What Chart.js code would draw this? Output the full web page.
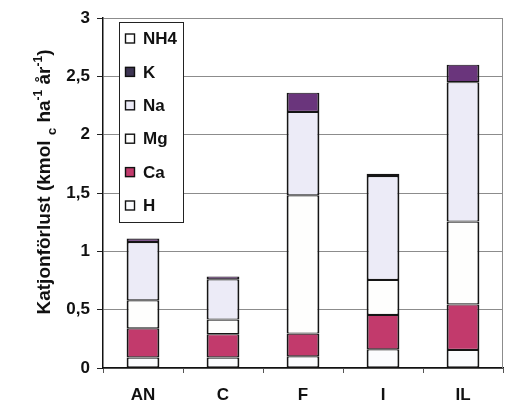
<!DOCTYPE html>
<html>
<head>
<meta charset="utf-8">
<script src="https://cdn.jsdelivr.net/npm/chart.js@4/dist/chart.umd.min.js"></script>
<style>
  html, body { margin: 0; padding: 0; background: #ffffff; }
  canvas { display: block; }
</style>
</head>
<body>
<canvas id="chart" width="510" height="403"></canvas>
<script>
// Cation losses per site, stacked by ion (kmol_c per ha and year)
const categories = ['AN', 'C', 'F', 'I', 'IL'];
const hValues   = [0.09, 0.09, 0.10, 0.16, 0.155];
const caValues  = [0.25, 0.20, 0.195, 0.295, 0.39];
const mgValues  = [0.24, 0.125, 1.185, 0.30, 0.71];
const naValues  = [0.50, 0.345, 0.715, 0.89, 1.195];
const kValues   = [0.03, 0.025, 0.165, 0.02, 0.15];
const nh4Values = [0, 0, 0, 0, 0];
const yTickValues = [0, 0.5, 1, 1.5, 2, 2.5, 3];

const FONT = '"Liberation Sans", Arial, sans-serif';

const series = [
  { label: 'H',   data: hValues,   color: '#fbfcfe' },
  { label: 'Ca',  data: caValues,  color: '#c23a6c' },
  { label: 'Mg',  data: mgValues,  color: '#fefefd' },
  { label: 'Na',  data: naValues,  color: '#ecebf7' },
  { label: 'K',   data: kValues,   color: '#6a357c' },
  { label: 'NH4', data: nh4Values, color: '#ffffff' }
];

// Legend box drawn inside the plot area, top entry = top of the stack
const boxLegend = {
  id: 'boxLegend',
  afterDraw(chart) {
    const ctx = chart.ctx;
    const left = 119, top = 22, w = 64, h = 200;
    ctx.save();
    ctx.fillStyle = '#ffffff';
    ctx.fillRect(left, top, w, h);
    ctx.strokeStyle = '#222';
    ctx.lineWidth = 1;
    ctx.strokeRect(left + 0.5, top + 0.5, w, h);
    const items = chart.data.datasets.slice().reverse();
    ctx.font = 'bold 17px ' + FONT;
    ctx.textBaseline = 'middle';
    items.forEach((ds, i) => {
      const cy = 38.5 + i * 33.4;
      ctx.fillStyle = ds.label === 'K' ? '#3d3452' : ds.backgroundColor;
      ctx.fillRect(125, cy - 5, 10, 10);
      ctx.strokeStyle = '#111';
      ctx.lineWidth = 1.4;
      ctx.strokeRect(125.5, cy - 4.5, 9, 9);
      ctx.fillStyle = '#111';
      ctx.fillText(ds.label, 143, cy + 1);
    });
    ctx.restore();
  }
};

// Right-hand frame line of the plot area
const frame = {
  id: 'frame',
  beforeDatasetsDraw(chart) {
    const { ctx, chartArea: a } = chart;
    ctx.save();
    ctx.strokeStyle = '#8c8c8c';
    ctx.lineWidth = 1;
    ctx.beginPath();
    ctx.moveTo(a.right - 0.5, a.top);
    ctx.lineTo(a.right - 0.5, a.bottom);
    ctx.stroke();
    ctx.restore();
  }
};

// Rotated y-axis title with subscript and superscripts
const yTitle = {
  id: 'yTitle',
  afterDraw(chart) {
    const ctx = chart.ctx;
    const parts = [
      { t: 'Katjonförlust (kmol ', s: 19, dy: 0 },
      { t: 'c', s: 13, dy: 6 },
      { t: ' ha', s: 19, dy: 0 },
      { t: '-1', s: 12, dy: -8 },
      { t: ' år', s: 19, dy: 0 },
      { t: '-1', s: 12, dy: -8 },
      { t: ')', s: 19, dy: 0 }
    ];
    ctx.save();
    let total = 0;
    parts.forEach(p => { ctx.font = 'bold ' + p.s + 'px ' + FONT; p.w = ctx.measureText(p.t).width; total += p.w; });
    ctx.translate(50, 182);
    ctx.rotate(-Math.PI / 2);
    ctx.fillStyle = '#111';
    ctx.textBaseline = 'alphabetic';
    let x = -total / 2;
    parts.forEach(p => {
      ctx.font = 'bold ' + p.s + 'px ' + FONT;
      ctx.fillText(p.t, x, p.dy);
      x += p.w;
    });
    ctx.restore();
  }
};

new Chart(document.getElementById('chart'), {
  type: 'bar',
  data: {
    labels: categories,
    datasets: series.map(s => ({
      label: s.label,
      data: s.data,
      backgroundColor: s.color,
      borderColor: '#151515',
      borderWidth: { left: 2, right: 2, top: 1.2, bottom: 1.2 },
      borderSkipped: false,
      barPercentage: 0.41,
      categoryPercentage: 1.0
    }))
  },
  options: {
    responsive: false,
    animation: false,
    devicePixelRatio: 1,
    layout: { padding: { top: 18, right: 7, left: 0, bottom: 0 } },
    plugins: { legend: { display: false }, tooltip: { enabled: false } },
    scales: {
      x: {
        stacked: true,
        offset: true,
        afterFit(scale) { scale.height = 35; },
        grid: {
          offset: true,
          drawOnChartArea: false,
          tickLength: 5,
          tickColor: '#555',
          tickWidth: 1
        },
        border: { color: '#111', width: 1.5 },
        ticks: {
          color: '#111',
          padding: 12,
          font: { family: FONT, size: 17, weight: 'bold' }
        }
      },
      y: {
        stacked: true,
        min: 0,
        max: 3,
        afterFit(scale) { scale.width = 103; },
        afterBuildTicks(scale) { scale.ticks = yTickValues.map(v => ({ value: v })); },
        grid: {
          color: '#8c8c8c',
          lineWidth: 1,
          tickLength: 6,
          tickColor: '#222'
        },
        border: { color: '#111', width: 1.5 },
        ticks: {
          color: '#111',
          padding: 7,
          font: { family: FONT, size: 17, weight: 'bold' },
          callback: v => String(v).replace('.', ',')
        }
      }
    }
  },
  plugins: [frame, boxLegend, yTitle]
});
</script>
</body>
</html>
